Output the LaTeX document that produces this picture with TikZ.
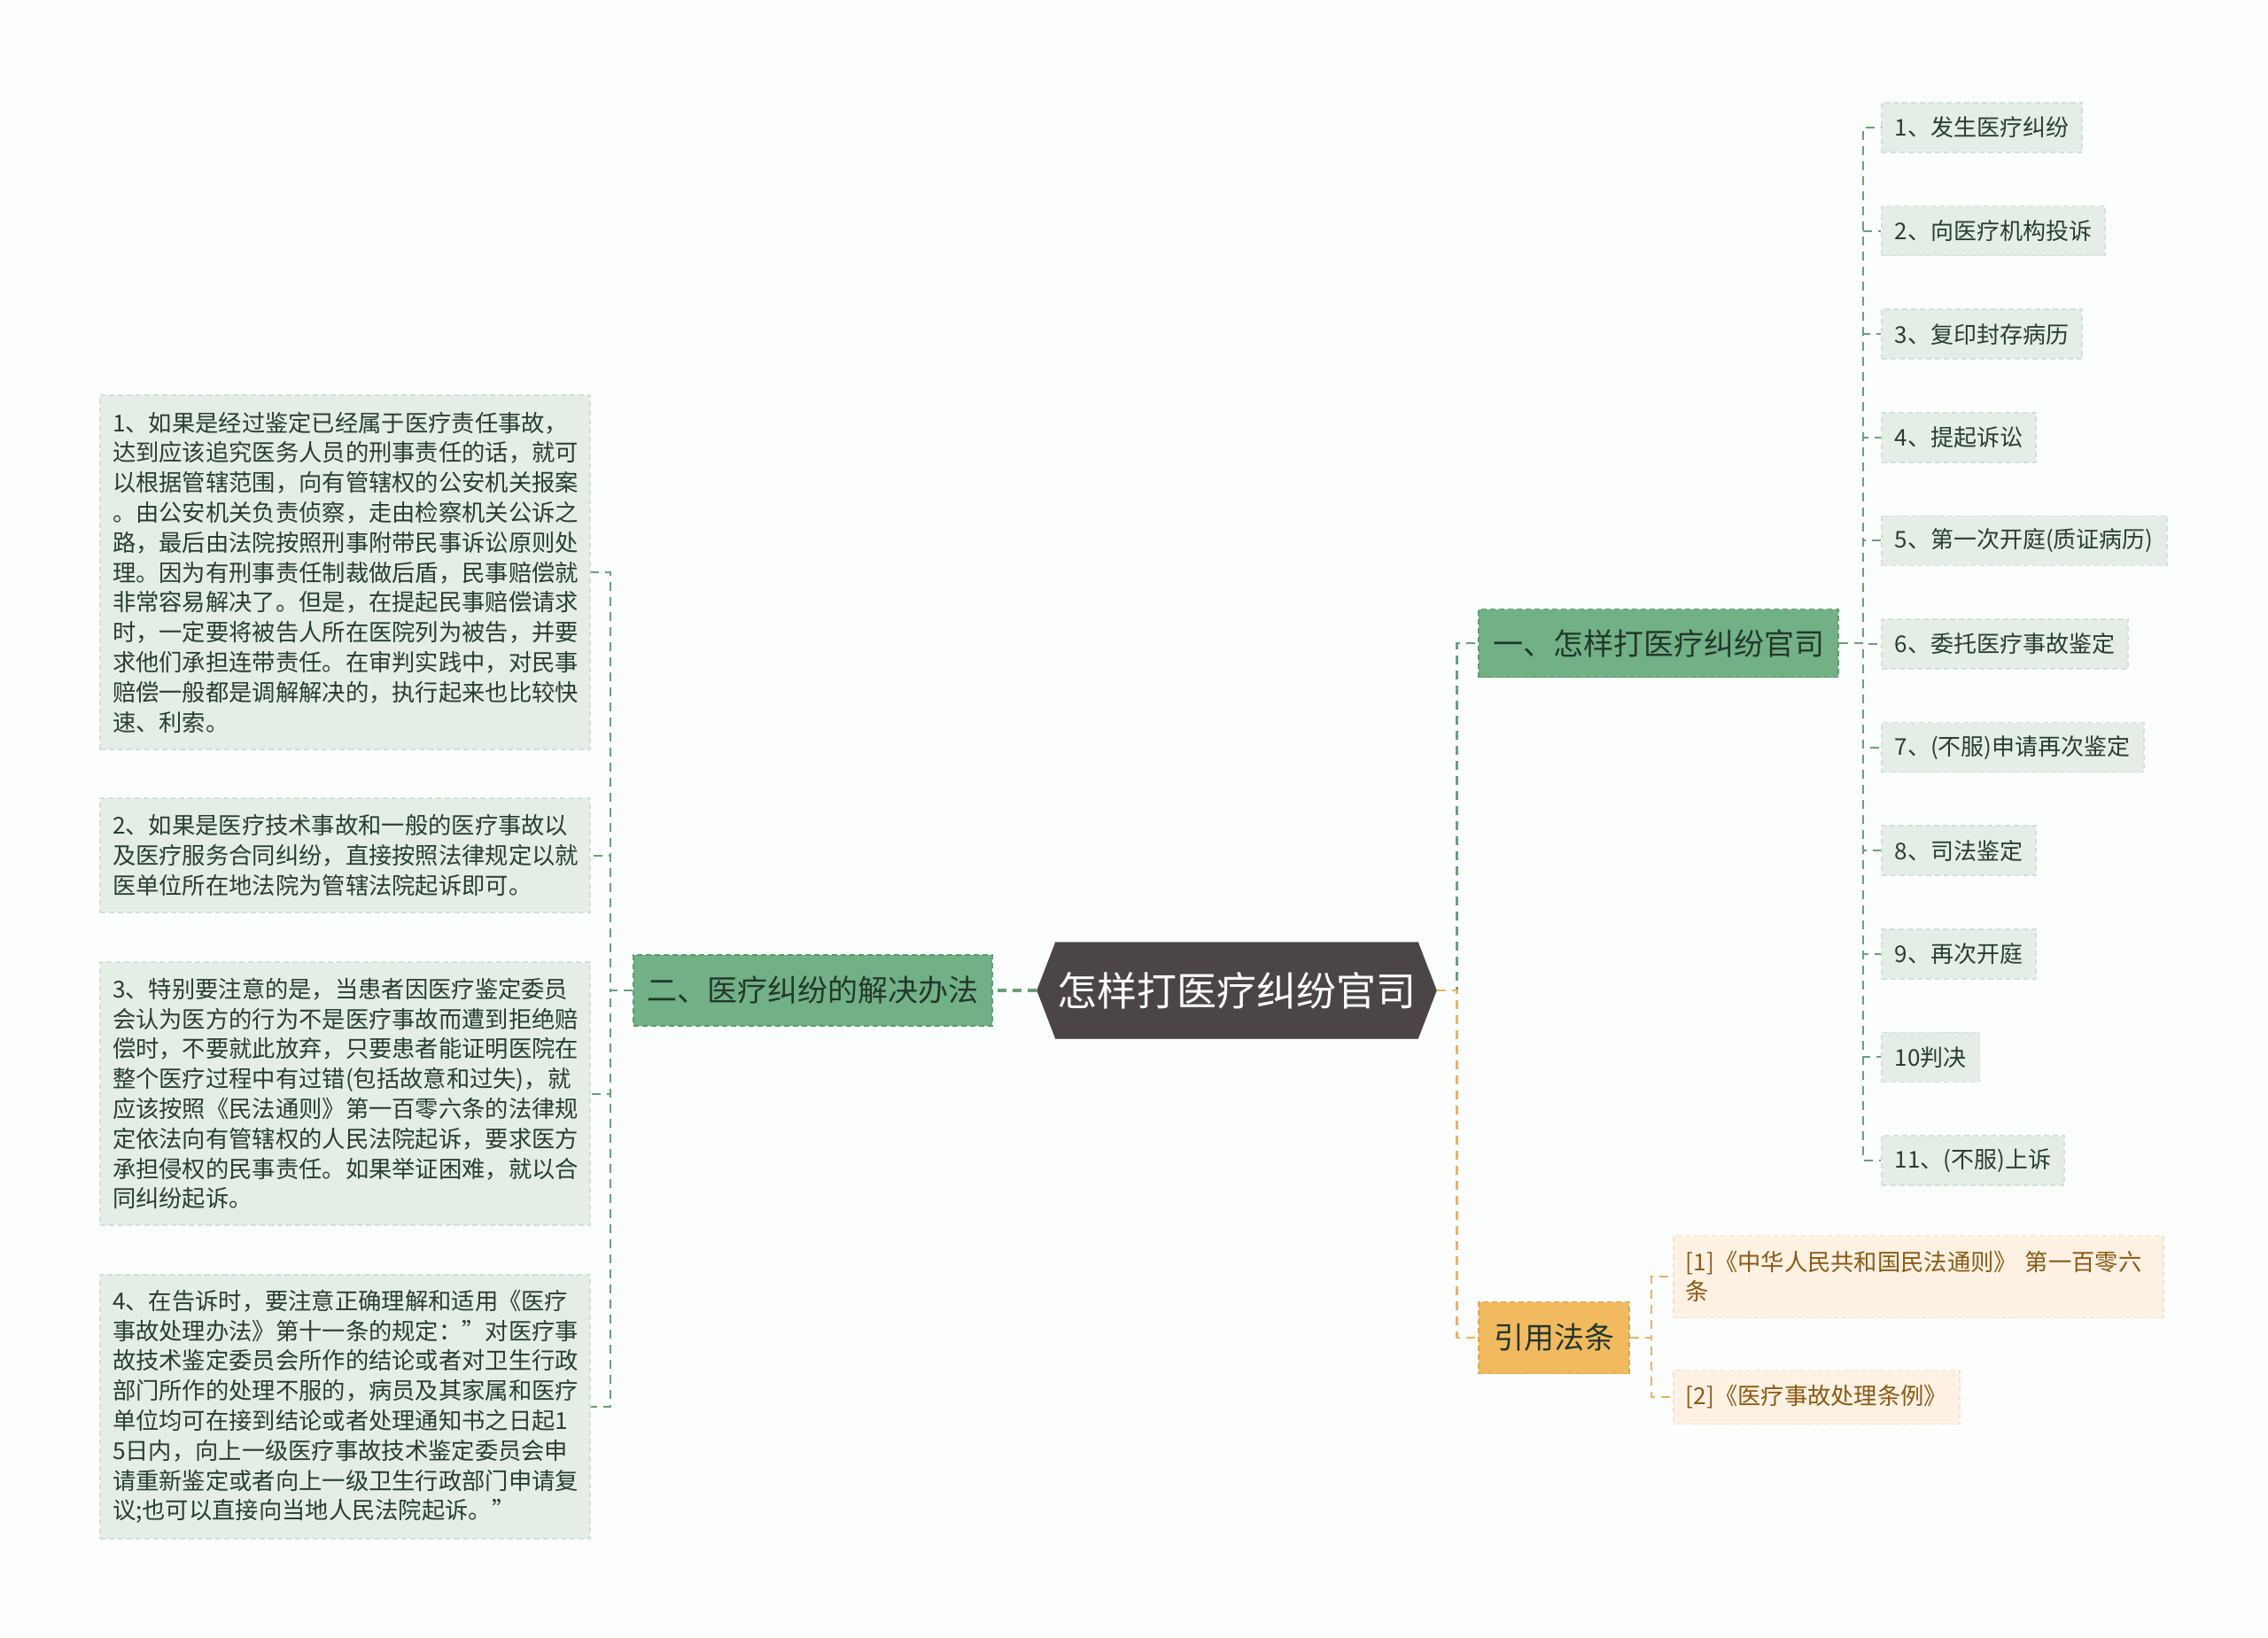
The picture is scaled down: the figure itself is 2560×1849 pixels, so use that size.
\documentclass[tikz,border=0pt]{standalone}
\usepackage{fontspec}
\setmainfont{Noto Sans CJK SC}
\usetikzlibrary{shapes.symbols,calc}
\definecolor{bgc}{HTML}{FBFEFD}
\definecolor{rootc}{HTML}{4B4546}
\definecolor{brgreen}{HTML}{72B086}
\definecolor{brgreenb}{HTML}{5C9A70}
\definecolor{leafg}{HTML}{E4EEE6}
\definecolor{leafgb}{HTML}{D2E2D6}
\definecolor{lineg}{HTML}{6A9F7C}
\definecolor{orng}{HTML}{F2BA5E}
\definecolor{orngb}{HTML}{DDA44C}
\definecolor{lineo}{HTML}{E9B35F}
\definecolor{citef}{HTML}{FDF1E3}
\definecolor{citeb}{HTML}{F6E2C8}
\definecolor{citet}{HTML}{8B5A14}
\definecolor{darkt}{HTML}{22372A}
\definecolor{leaft}{HTML}{2A3D30}
\tikzset{
  rootbox/.style={signal, signal to=west and east, signal pointer angle=138,
    fill=rootc, draw=rootc, text=white, minimum width=451pt, minimum height=109pt,
    inner sep=0pt, font=\fontsize{45}{50}\selectfont},
  branchbox/.style={fill=brgreen, draw=brgreenb, dashed, line width=1.5pt, dash pattern=on 6pt off 4pt,
    text=darkt, inner sep=0pt, font=\fontsize{34}{40}\selectfont},
  citebranch/.style={fill=orng, draw=orngb, dashed, line width=1.5pt, dash pattern=on 6pt off 4pt,
    text=darkt, inner sep=0pt, font=\fontsize{34}{40}\selectfont},
  leftleaf/.style={fill=leafg, draw=leafgb, line width=1.5pt, dash pattern=on 6pt off 4pt,
    text=leaft, text width=525pt, align=left, inner xsep=14pt, inner ysep=0pt,
    font=\fontsize{26.3}{33.8}\selectfont},
  rightleaf/.style={fill=leafg, draw=leafgb, line width=1.5pt, dash pattern=on 6pt off 4pt,
    text=leaft, inner xsep=15pt, inner ysep=0pt, minimum height=56pt, anchor=west,
    font=\fontsize{26}{30}\selectfont},
  citeleaf/.style={fill=citef, draw=citeb, line width=1.5pt, dash pattern=on 6pt off 4pt,
    text=citet, inner xsep=14pt, inner ysep=0pt, anchor=west, align=left,
    font=\fontsize{26.3}{33}\selectfont},
  conng/.style={draw=lineg, line width=2.5pt, dash pattern=on 10pt off 7pt},
  conno/.style={draw=lineo, line width=2.5pt, dash pattern=on 10pt off 7pt},
}
\begin{document}
\begin{tikzpicture}[x=1pt,y=-1pt]
\fill[bgc] (0,0) rectangle (2560,1849);

% root
\node[rootbox] (root) at (1396,1118) {怎样打医疗纠纷官司};

% branches
\node[branchbox, minimum width=405pt, minimum height=80pt] (b2) at (917.5,1118) {二、医疗纠纷的解决办法};
\node[branchbox, minimum width=406pt, minimum height=77pt] (b1) at (1872,726) {一、怎样打医疗纠纷官司};
\node[citebranch, minimum width=170pt, minimum height=81pt] (cb) at (1754,1510) {引用法条};

% left leaves
\node[leftleaf, minimum height=400pt] (l1) at (389.5,646) {1、如果是经过鉴定已经属于医疗责任事故，\\达到应该追究医务人员的刑事责任的话，就可\\以根据管辖范围，向有管辖权的公安机关报案\\。由公安机关负责侦察，走由检察机关公诉之\\路，最后由法院按照刑事附带民事诉讼原则处\\理。因为有刑事责任制裁做后盾，民事赔偿就\\非常容易解决了。但是，在提起民事赔偿请求\\时，一定要将被告人所在医院列为被告，并要\\求他们承担连带责任。在审判实践中，对民事\\赔偿一般都是调解解决的，执行起来也比较快\\速、利索。};
\node[leftleaf, minimum height=129pt] (l2) at (389.5,965.5) {2、如果是医疗技术事故和一般的医疗事故以\\及医疗服务合同纠纷，直接按照法律规定以就\\医单位所在地法院为管辖法院起诉即可。};
\node[leftleaf, minimum height=297pt] (l3) at (389.5,1234.5) {3、特别要注意的是，当患者因医疗鉴定委员\\会认为医方的行为不是医疗事故而遭到拒绝赔\\偿时，不要就此放弃，只要患者能证明医院在\\整个医疗过程中有过错(包括故意和过失)，就\\应该按照《民法通则》第一百零六条的法律规\\定依法向有管辖权的人民法院起诉，要求医方\\承担侵权的民事责任。如果举证困难，就以合\\同纠纷起诉。};
\node[leftleaf, minimum height=298pt] (l4) at (389.5,1588) {4、在告诉时，要注意正确理解和适用《医疗\\事故处理办法》第十一条的规定：\symbol{34}对医疗事\\故技术鉴定委员会所作的结论或者对卫生行政\\部门所作的处理不服的，病员及其家属和医疗\\单位均可在接到结论或者处理通知书之日起1\\5日内，向上一级医疗事故技术鉴定委员会申\\请重新鉴定或者向上一级卫生行政部门申请复\\议;也可以直接向当地人民法院起诉。\symbol{34}};

% right leaves
\node[rightleaf] (r1) at (2123,144) {1、发生医疗纠纷};
\node[rightleaf] (r2) at (2123,260.6) {2、向医疗机构投诉};
\node[rightleaf] (r3) at (2123,377.2) {3、复印封存病历};
\node[rightleaf] (r4) at (2123,493.8) {4、提起诉讼};
\node[rightleaf] (r5) at (2123,610.4) {5、第一次开庭(质证病历)};
\node[rightleaf] (r6) at (2123,727) {6、委托医疗事故鉴定};
\node[rightleaf] (r7) at (2123,843.6) {7、(不服)申请再次鉴定};
\node[rightleaf] (r8) at (2123,960.2) {8、司法鉴定};
\node[rightleaf] (r9) at (2123,1076.8) {9、再次开庭};
\node[rightleaf] (r10) at (2123,1193.4) {10判决};
\node[rightleaf] (r11) at (2123,1310) {11、(不服)上诉};

% citation leaves
\node[citeleaf, text width=525pt, minimum height=93pt] (c1) at (1888,1441) {[1]《中华人民共和国民法通则》 第一百零六\\条};
\node[citeleaf, minimum height=61pt] (c2) at (1888,1577) {[2]《医疗事故处理条例》};

% connectors: root to left branch
\draw[conng, line width=4.5pt] (root.west) -- (b2.east);
\foreach \n in {l1,l2,l3,l4}
  \draw[conng, line width=2pt] (b2.west) -- ++(-25,0) |- (\n.east);

% root to right branches
\draw[conng] (root.east) -- ++(23,0) |- (b1.west);
\draw[conno] (root.east) -- ++(23,0) |- (cb.west);

% right leaves
\foreach \n in {r1,r2,r3,r4,r5,r6,r7,r8,r9,r10,r11}
  \draw[conng, line width=2pt] (b1.east) -- ++(27,0) |- (\n.west);

% citation leaves
\foreach \n in {c1,c2}
  \draw[conno, line width=2pt] (cb.east) -- ++(24,0) |- (\n.west);
\end{tikzpicture}
\end{document}
